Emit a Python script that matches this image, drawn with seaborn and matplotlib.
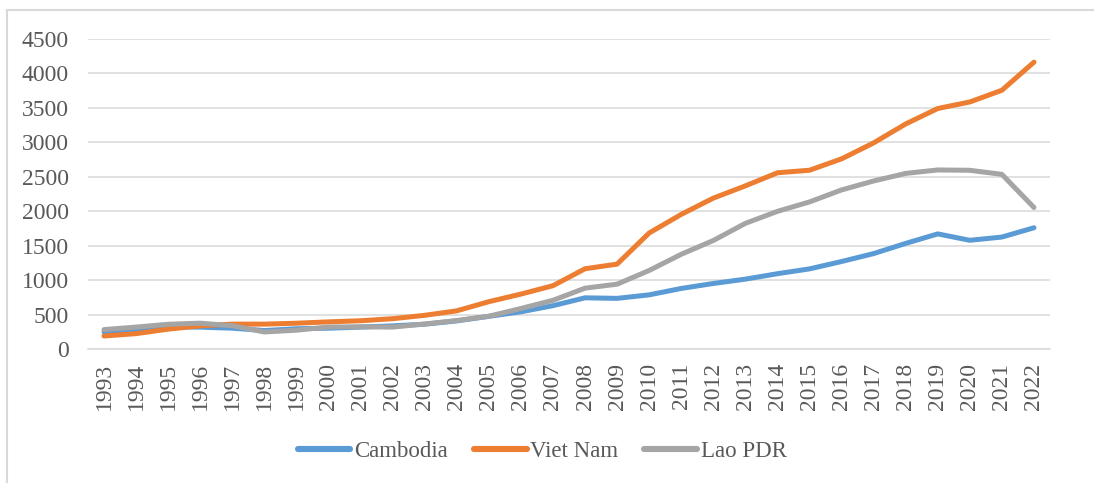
import matplotlib
matplotlib.use("Agg")
import matplotlib.pyplot as plt
import seaborn as sns
import pandas as pd
from matplotlib.lines import Line2D

years = list(range(1993, 2023))
cambodia = [248, 272, 321, 317, 302, 268, 294, 302, 318, 336, 360, 408, 474, 540, 629,
            743, 735, 786, 879, 951, 1014, 1093, 1163, 1270, 1385, 1533, 1671, 1578, 1625, 1760]
viet_nam = [189, 223, 288, 337, 361, 361, 374, 394, 410, 440, 489, 554, 687, 797, 919,
            1165, 1232, 1684, 1954, 2190, 2368, 2558, 2595, 2760, 2992, 3267, 3491, 3586, 3756, 4164]
lao_pdr = [282, 318, 359, 375, 338, 247, 273, 319, 322, 318, 363, 413, 476, 588, 707,
           883, 941, 1140, 1375, 1575, 1824, 1998, 2135, 2309, 2439, 2549, 2599, 2594, 2535, 2054]
series_names = ["Cambodia", "Viet Nam", "Lao PDR"]
y_ticks = [0, 500, 1000, 1500, 2000, 2500, 3000, 3500, 4000, 4500]

df = pd.DataFrame({
    "Year": years * 3,
    "Value": cambodia + viet_nam + lao_pdr,
    "Country": [series_names[0]] * len(years) + [series_names[1]] * len(years) + [series_names[2]] * len(years),
})

sns.set_theme(style="white")
plt.rcParams["font.family"] = ["Liberation Serif", "DejaVu Serif"]

text_color = "#595959"
grid_color = "#D9D9D9"
palette = {"Cambodia": "#5B9BD5", "Viet Nam": "#ED7D31", "Lao PDR": "#A5A5A5"}

fig = plt.figure(figsize=(10.94, 4.83), dpi=100)
ax = fig.add_axes([88 / 1094, 1 - 349 / 483, (1050 - 88) / 1094, (349 - 39) / 483])

sns.lineplot(data=df, x="Year", y="Value", hue="Country", hue_order=series_names,
             palette=palette, linewidth=3.6, ax=ax, legend=False, sort=False)
for ln in ax.get_lines():
    ln.set_solid_capstyle("round")
    ln.set_solid_joinstyle("round")

ax.set_xlim(years[0] - 0.5, years[-1] + 0.5)
ax.set_ylim(0, 4500)
ax.set_yticks(y_ticks)
ax.set_yticklabels([str(v) for v in y_ticks])
ax.set_xticks(years)
ax.set_xticklabels([str(y) for y in years], rotation=90)
ax.set_xlabel("")
ax.set_ylabel("")

ax.yaxis.grid(True, color=grid_color, linewidth=1.1)
ax.xaxis.grid(False)
ax.set_axisbelow(True)
for s in ["top", "right", "left"]:
    ax.spines[s].set_visible(False)
ax.spines["bottom"].set_color(grid_color)
ax.spines["bottom"].set_linewidth(1.1)
ax.tick_params(axis="y", length=0, pad=14, labelsize=17, labelcolor=text_color)
ax.tick_params(axis="x", length=0, pad=10, labelsize=17, labelcolor=text_color)

handles = [Line2D([0], [0], color=palette[n], linewidth=4.4, solid_capstyle="round") for n in series_names]
fig.legend(handles, series_names, loc="center", bbox_to_anchor=(542 / 1094, 1 - 451 / 483),
           ncol=3, frameon=False, fontsize=16.5, labelcolor=text_color,
           handlelength=2.3, handletextpad=0.15, columnspacing=1.15)

# chart area border (left and top edges visible)
fig.add_artist(Line2D([6.5 / 1094, 6.5 / 1094], [0, 1 - 10 / 483], transform=fig.transFigure,
                      color=grid_color, linewidth=1.5))
fig.add_artist(Line2D([6.5 / 1094, 1], [1 - 10 / 483, 1 - 10 / 483], transform=fig.transFigure,
                      color=grid_color, linewidth=1.5))

fig.savefig("out.png", dpi=100, facecolor="white")
